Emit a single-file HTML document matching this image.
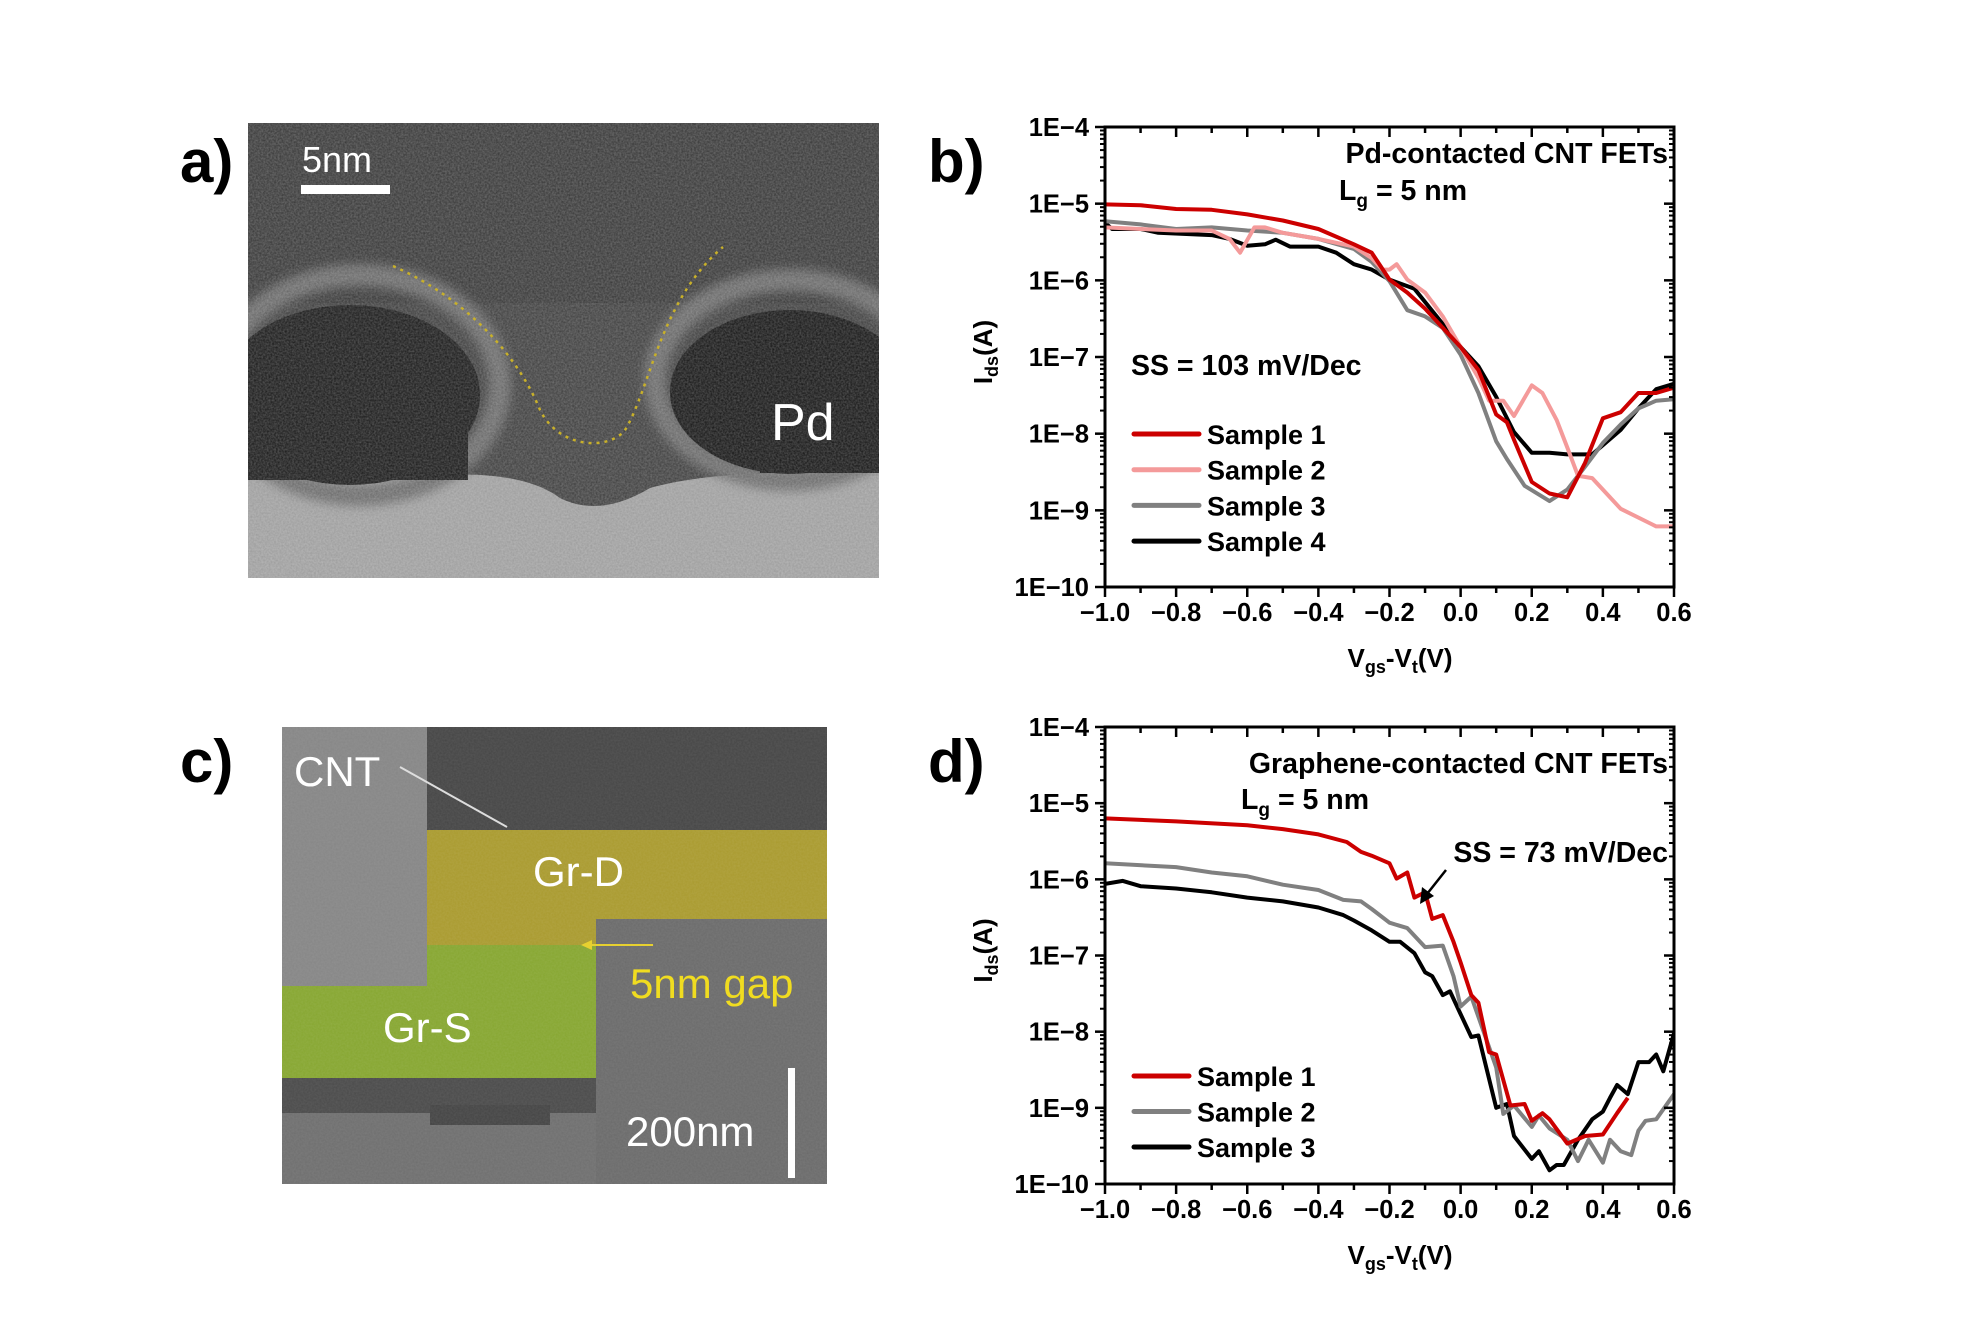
<!DOCTYPE html>
<html><head><meta charset="utf-8">
<style>
html,body{margin:0;padding:0;background:#fff;}
svg{display:block;font-family:"Liberation Sans",Arial,sans-serif;}
.lbl{font-weight:bold;font-size:60px;}
.tk{font-weight:bold;font-size:25.5px;}
.tt{font-weight:bold;font-size:28.5px;}
.ax{font-weight:bold;font-size:26px;}
.lg{font-weight:bold;font-size:27px;}
</style></head>
<body>
<svg id="fig" width="1966" height="1317" viewBox="0 0 1966 1317" xmlns="http://www.w3.org/2000/svg">
<defs>
  <filter id="noise" x="0" y="0" width="100%" height="100%">
    <feTurbulence type="fractalNoise" baseFrequency="0.55" numOctaves="2" seed="3" result="t"/>
    <feColorMatrix in="t" type="matrix" values="0 0 0 0 1  0 0 0 0 1  0 0 0 0 1  0 0 0 0.55 0"/>
  </filter>
  <filter id="blur4"><feGaussianBlur stdDeviation="5"/></filter>
  <clipPath id="clipA"><rect x="248" y="123" width="631" height="455"/></clipPath>
  <clipPath id="clipC"><rect x="282" y="727" width="545" height="457"/></clipPath>
  <clipPath id="clipB"><rect x="1105" y="127" width="569" height="460"/></clipPath>
  <clipPath id="clipD"><rect x="1105" y="727" width="569" height="457"/></clipPath>
</defs>

<!-- panel labels -->
<text class="lbl" x="180" y="182">a)</text>
<text class="lbl" x="180" y="782">c)</text>
<text class="lbl" x="928" y="182">b)</text>
<text class="lbl" x="928" y="782">d)</text>

<!-- panel a: TEM image -->
<g clip-path="url(#clipA)">
  <rect x="248" y="123" width="631" height="455" fill="#3a3a3a"/>
  <rect x="248" y="123" width="631" height="180" fill="#333"/>
  <path d="M248 478 Q340 468 420 476 Q520 468 560 498 Q600 518 650 488 Q720 468 879 473 L879 578 L248 578 Z" fill="#9a9a9a"/>
  <ellipse cx="360" cy="385" rx="140" ry="110" fill="none" stroke="#666" stroke-width="22" filter="url(#blur4)"/>
  <ellipse cx="790" cy="380" rx="135" ry="100" fill="none" stroke="#666" stroke-width="22" filter="url(#blur4)"/>
  <ellipse cx="350" cy="395" rx="130" ry="90" fill="#151515"/>
  <rect x="248" y="400" width="220" height="80" fill="#151515"/>
  <ellipse cx="790" cy="392" rx="120" ry="82" fill="#111"/>
  <rect x="760" y="395" width="123" height="78" fill="#111"/>
  <rect x="248" y="123" width="631" height="455" filter="url(#noise)" opacity="0.55"/>
  <path d="M393 266 C470 300 520 360 540 410 C560 450 610 450 625 430 C650 390 660 300 723 247" fill="none" stroke="#c8b02a" stroke-width="2.5" stroke-dasharray="3,5"/>
  <rect x="301" y="185" width="89" height="9" fill="#fff"/>
  <text x="302" y="172" fill="#fff" font-size="36">5nm</text>
  <text x="771" y="440" fill="#fff" font-size="52">Pd</text>
</g>

<!-- panel c: SEM image -->
<g clip-path="url(#clipC)">
  <rect x="282" y="727" width="545" height="457" fill="#6e6e6e"/>
  <rect x="427" y="727" width="400" height="103" fill="#454545"/>
  <rect x="282" y="727" width="145" height="259" fill="#858585"/>
  <rect x="596" y="919" width="231" height="265" fill="#6a6a6a"/>
  <rect x="282" y="1078" width="314" height="35" fill="#4a4a4a"/>
  <rect x="430" y="1105" width="120" height="20" fill="#444"/>
  <rect x="427" y="830" width="400" height="89" fill="#a99a2e"/>
  <rect x="427" y="919" width="169" height="26" fill="#a99a2e"/>
  <rect x="282" y="986" width="314" height="92" fill="#86a630"/>
  <rect x="427" y="945" width="169" height="41" fill="#86a630"/>
  <rect x="282" y="727" width="545" height="457" filter="url(#noise)" opacity="0.18"/>
  <line x1="400" y1="767" x2="507" y2="827" stroke="#ddd" stroke-width="2"/>
  <line x1="653" y1="945" x2="583" y2="945" stroke="#e6d030" stroke-width="2"/>
  <path d="M581 945 L592 940 L592 950 Z" fill="#e6d030"/>
  <text x="294" y="786" fill="#fff" font-size="42">CNT</text>
  <text x="533" y="886" fill="#fff" font-size="42">Gr-D</text>
  <text x="383" y="1042" fill="#fff" font-size="42">Gr-S</text>
  <text x="630" y="998" fill="#f0dc20" font-size="42">5nm gap</text>
  <text x="626" y="1146" fill="#fff" font-size="42">200nm</text>
  <rect x="788" y="1068" width="7" height="110" fill="#fff"/>
</g>

<g id="chartB"></g>
<g id="chartD"></g>
</svg>

<script>
// ---------- data (log10 of Ids in A) ----------
const b1x = [-1,-0.9,-0.8,-0.7,-0.6,-0.5,-0.4,-0.3,-0.25,-0.2,-0.15,-0.1,-0.05,0,0.05,0.1,0.13,0.15,0.2,0.25,0.3,0.35,0.4,0.45,0.5,0.55,0.6];
const b1y = [-5.01,-5.02,-5.07,-5.08,-5.14,-5.22,-5.33,-5.53,-5.64,-5.99,-6.16,-6.37,-6.62,-6.87,-7.17,-7.75,-7.85,-8.08,-8.63,-8.78,-8.83,-8.38,-7.8,-7.72,-7.47,-7.47,-7.4];
const b2x = [-1,-0.9,-0.8,-0.7,-0.65,-0.62,-0.58,-0.55,-0.5,-0.4,-0.3,-0.25,-0.22,-0.2,-0.18,-0.15,-0.1,-0.05,0,0.05,0.08,0.12,0.15,0.2,0.23,0.27,0.3,0.33,0.37,0.4,0.45,0.55,0.6];
const b2y = [-5.31,-5.33,-5.35,-5.35,-5.46,-5.64,-5.31,-5.31,-5.38,-5.46,-5.56,-5.71,-5.86,-5.86,-5.79,-5.99,-6.16,-6.47,-6.87,-7.27,-7.57,-7.57,-7.77,-7.37,-7.47,-7.82,-8.18,-8.55,-8.58,-8.73,-8.98,-9.21,-9.21];
const b3x = [-1,-0.9,-0.8,-0.7,-0.6,-0.5,-0.4,-0.3,-0.25,-0.2,-0.15,-0.1,-0.05,0,0.05,0.1,0.13,0.18,0.25,0.3,0.35,0.4,0.45,0.5,0.55,0.6];
const b3y = [-5.23,-5.27,-5.33,-5.31,-5.35,-5.38,-5.46,-5.59,-5.76,-6.01,-6.39,-6.47,-6.62,-6.97,-7.47,-8.1,-8.33,-8.68,-8.88,-8.73,-8.43,-8.12,-7.88,-7.67,-7.57,-7.55];
const b4x = [-1,-0.98,-0.9,-0.85,-0.7,-0.65,-0.6,-0.55,-0.52,-0.48,-0.4,-0.35,-0.3,-0.25,-0.2,-0.13,-0.05,0,0.05,0.1,0.15,0.2,0.25,0.3,0.37,0.45,0.5,0.55,0.6];
const b4y = [-5.25,-5.33,-5.33,-5.38,-5.41,-5.46,-5.55,-5.53,-5.47,-5.56,-5.56,-5.64,-5.79,-5.86,-5.99,-6.11,-6.57,-6.87,-7.12,-7.52,-7.98,-8.25,-8.25,-8.27,-8.27,-7.95,-7.67,-7.42,-7.35];

const d1x = [-1,-0.8,-0.6,-0.5,-0.4,-0.32,-0.28,-0.25,-0.2,-0.18,-0.15,-0.13,-0.1,-0.08,-0.05,-0.02,0,0.03,0.05,0.08,0.1,0.14,0.18,0.2,0.23,0.25,0.3,0.35,0.4,0.44,0.47];
const d1y = [-5.2,-5.24,-5.29,-5.34,-5.41,-5.51,-5.64,-5.69,-5.79,-5.99,-5.91,-6.24,-6.17,-6.52,-6.47,-6.82,-7.09,-7.52,-7.62,-8.27,-8.3,-8.97,-8.95,-9.17,-9.07,-9.15,-9.47,-9.37,-9.35,-9.07,-8.87];
const d2x = [-1,-0.8,-0.7,-0.6,-0.5,-0.4,-0.33,-0.28,-0.25,-0.2,-0.15,-0.1,-0.05,-0.02,0,0.03,0.07,0.1,0.12,0.15,0.2,0.22,0.25,0.3,0.33,0.36,0.4,0.42,0.45,0.48,0.5,0.52,0.55,0.6];
const d2y = [-5.79,-5.84,-5.91,-5.96,-6.07,-6.14,-6.27,-6.29,-6.39,-6.57,-6.64,-6.89,-6.87,-7.27,-7.67,-7.54,-8.07,-8.47,-9.08,-8.97,-9.25,-9.1,-9.27,-9.42,-9.7,-9.42,-9.72,-9.42,-9.57,-9.62,-9.3,-9.17,-9.15,-8.82];
const d3x = [-1,-0.95,-0.9,-0.8,-0.7,-0.6,-0.5,-0.4,-0.33,-0.3,-0.25,-0.2,-0.17,-0.13,-0.1,-0.08,-0.05,-0.03,0,0.03,0.05,0.1,0.13,0.15,0.2,0.22,0.25,0.27,0.29,0.33,0.37,0.4,0.42,0.44,0.47,0.5,0.53,0.55,0.57,0.6];
const d3y = [-6.06,-6.02,-6.09,-6.12,-6.17,-6.24,-6.29,-6.37,-6.47,-6.54,-6.67,-6.82,-6.82,-6.97,-7.22,-7.27,-7.52,-7.47,-7.77,-8.07,-8.05,-9.0,-8.95,-9.37,-9.67,-9.57,-9.82,-9.75,-9.75,-9.42,-9.15,-9.05,-8.87,-8.7,-8.82,-8.4,-8.4,-8.3,-8.52,-8.02];

const xTicks = [-1.0,-0.8,-0.6,-0.4,-0.2,0.0,0.2,0.4,0.6];
const xTickLabels = ["\u22121.0","\u22120.8","\u22120.6","\u22120.4","\u22120.2","0.0","0.2","0.4","0.6"];
const yTicks = [-4,-5,-6,-7,-8,-9,-10];
const yTickLabels = ["1E\u22124","1E\u22125","1E\u22126","1E\u22127","1E\u22128","1E\u22129","1E\u221210"];
const namesB = ["Sample 1","Sample 2","Sample 3","Sample 4"];
const namesD = ["Sample 1","Sample 2","Sample 3"];

const NS = "http://www.w3.org/2000/svg";
function mk(tag, attrs, parent){
  const e = document.createElementNS(NS, tag);
  for (const k in attrs) e.setAttribute(k, attrs[k]);
  parent.appendChild(e);
  return e;
}

function drawChart(g, top, bottom, clipId, series, legend, texts){
  const L = 1105, R = 1674;
  const sx = v => L + (v + 1) / 1.6 * (R - L);
  const sy = v => top + (-4 - v) / 6 * (bottom - top);
  const sg = mk('g', {'clip-path': 'url(#' + clipId + ')'}, g);
  series.forEach(s => {
    const d = s.x.map((v, i) => (i ? 'L' : 'M') + sx(v).toFixed(1) + ' ' + sy(s.y[i]).toFixed(1)).join(' ');
    const p = mk('path', {d: d, fill: 'none', stroke: s.c, 'stroke-width': 4, 'stroke-linejoin': 'round'}, sg);
    
    
  });
  const fr = mk('rect', {x: L, y: top, width: R - L, height: bottom - top, fill: 'none', stroke: '#000', 'stroke-width': 3}, g);
  
  
  for (let k = 0; k <= 16; k++) {
    const v = -1 + k * 0.1;
    const x = sx(v), major = (k % 2 === 0), len = major ? 10 : 6;
    mk('line', {x1: x, y1: bottom, x2: x, y2: bottom + len, stroke: '#000', 'stroke-width': 2.5}, g);
    mk('line', {x1: x, y1: top, x2: x, y2: top + len, stroke: '#000', 'stroke-width': 2.5}, g);
  }
  xTicks.forEach((v, i) => {
    const t = mk('text', {x: sx(v), y: bottom + 34, 'text-anchor': 'middle', class: 'tk'}, g);
    t.textContent = xTickLabels[i];
    
    
  });
  yTicks.forEach((v, i) => {
    const y = sy(v);
    mk('line', {x1: L, y1: y, x2: L - 10, y2: y, stroke: '#000', 'stroke-width': 2.5}, g);
    mk('line', {x1: R, y1: y, x2: R - 10, y2: y, stroke: '#000', 'stroke-width': 2.5}, g);
    if (v > -10) for (let m = 2; m <= 9; m++) {
      const ym = sy(v - 1 + Math.log10(m));
      mk('line', {x1: L, y1: ym, x2: L - 5, y2: ym, stroke: '#000', 'stroke-width': 2}, g);
      mk('line', {x1: R, y1: ym, x2: R - 5, y2: ym, stroke: '#000', 'stroke-width': 2}, g);
    }
    const t = mk('text', {x: 1089, y: y + 9, 'text-anchor': 'end', class: 'tk'}, g);
    t.textContent = yTickLabels[i];
    
    
  });
  const yt = mk('text', {transform: 'translate(992,' + ((top + bottom) / 2 - 5) + ') rotate(-90)', 'text-anchor': 'middle', class: 'ax'}, g);
  yt.innerHTML = 'I<tspan font-size="18" dy="6">ds</tspan><tspan dy="-6">(A)</tspan>';
  
  
  const xt = mk('text', {x: 1400, y: bottom + 80, 'text-anchor': 'middle', class: 'ax'}, g);
  xt.innerHTML = 'V<tspan font-size="18" dy="6">gs</tspan><tspan dy="-6">-V</tspan><tspan font-size="18" dy="6">t</tspan><tspan dy="-6">(V)</tspan>';
  
  
  legend.rows.forEach((r, i) => {
    const y = legend.y0 + i * legend.dy;
    const ln = mk('line', {x1: 1134, y1: y, x2: legend.x2, y2: y, stroke: r.c, 'stroke-width': 5, 'stroke-linecap': 'round'}, g);
    
    
    const t = mk('text', {x: legend.x2 + 8, y: y + 10, class: 'lg'}, g);
    t.textContent = r.name;
    
    
  });
  texts(g);
}

const gB = document.getElementById('chartB');
drawChart(gB, 127, 587, 'clipB', [
  {x: b4x, y: b4y, c: '#000000', name: 'series-sample-4'},
  {x: b3x, y: b3y, c: '#808080', name: 'series-sample-3'},
  {x: b2x, y: b2y, c: '#f49a9a', name: 'series-sample-2'},
  {x: b1x, y: b1y, c: '#cc0000', name: 'series-sample-1'}
], {y0: 434, dy: 35.7, x2: 1199, rows: [
  {name: namesB[0], c: '#cc0000'}, {name: namesB[1], c: '#f49a9a'},
  {name: namesB[2], c: '#808080'}, {name: namesB[3], c: '#000000'}]},
  g => {
    let t = mk('text', {x: 1668, y: 163, 'text-anchor': 'end', class: 'tt'}, g);
    t.textContent = 'Pd-contacted CNT FETs';
    
    
    t = mk('text', {x: 1339, y: 200, class: 'tt'}, g);
    t.innerHTML = 'L<tspan font-size="19" dy="7">g</tspan><tspan dy="-7"> = 5 nm</tspan>';
    
    
    t = mk('text', {x: 1131, y: 375, class: 'tt'}, g);
    t.textContent = 'SS = 103 mV/Dec';
    
    
  });

const gD = document.getElementById('chartD');
drawChart(gD, 727, 1184, 'clipD', [
  {x: d3x, y: d3y, c: '#000000', name: 'series-sample-3'},
  {x: d2x, y: d2y, c: '#808080', name: 'series-sample-2'},
  {x: d1x, y: d1y, c: '#cc0000', name: 'series-sample-1'}
], {y0: 1076, dy: 35.5, x2: 1189, rows: [
  {name: namesD[0], c: '#cc0000'}, {name: namesD[1], c: '#808080'}, {name: namesD[2], c: '#000000'}]},
  g => {
    let t = mk('text', {x: 1668, y: 773, 'text-anchor': 'end', class: 'tt'}, g);
    t.textContent = 'Graphene-contacted CNT FETs';
    
    
    t = mk('text', {x: 1241, y: 809, class: 'tt'}, g);
    t.innerHTML = 'L<tspan font-size="19" dy="7">g</tspan><tspan dy="-7"> = 5 nm</tspan>';
    
    
    t = mk('text', {x: 1668, y: 862, 'text-anchor': 'end', class: 'tt'}, g);
    t.textContent = 'SS = 73 mV/Dec';
    
    
    const a = mk('line', {x1: 1446, y1: 870, x2: 1427, y2: 894, stroke: '#000', 'stroke-width': 2.5}, g);
    
    
    mk('path', {d: 'M1420 904 L1422 887 L1434 896 Z', fill: '#000'}, g);
  });
</script>
</body></html>
